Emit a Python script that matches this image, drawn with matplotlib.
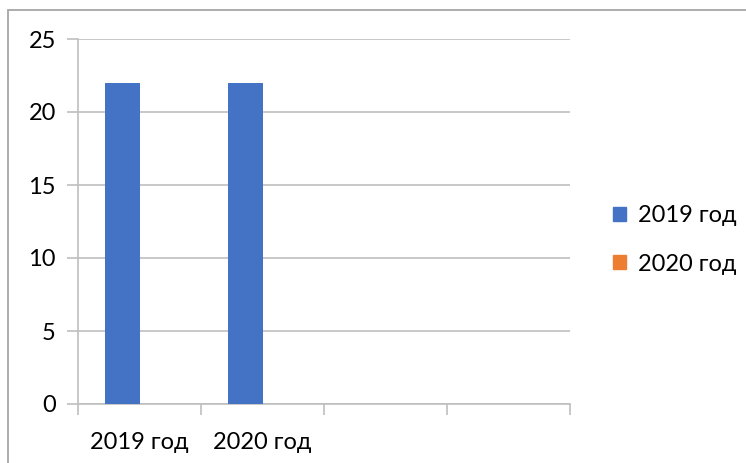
import numpy as np
import matplotlib
matplotlib.use("Agg")
import matplotlib.pyplot as plt
from matplotlib.patches import Patch, Rectangle

categories = ["2019 год", "2020 год", "", ""]
series_names = ["2019 год", "2020 год"]
values_2019 = [22, 22, np.nan, np.nan]
values_2020 = [np.nan, np.nan, np.nan, np.nan]

BLUE, ORANGE = "#4472C4", "#ED7D31"
GRID = "#BFBFBF"

plt.rcParams["font.family"] = ["Lato", "DejaVu Sans"]

W, H = 746, 463
fig = plt.figure(figsize=(W / 100, H / 100), dpi=100)
ax = fig.add_axes([78 / W, (H - 404) / H, (570 - 78) / W, (404 - 39) / H])

x = np.arange(len(categories))
bw = 35 / 123
ax.bar(x - bw / 2, values_2019, bw, color=BLUE, zorder=3)
ax.bar(x + bw / 2, values_2020, bw, color=ORANGE, zorder=3)

ax.set_xlim(-0.5, len(categories) - 0.5)
ax.set_ylim(0, 25)
ax.set_yticks(range(0, 26, 5))
ax.yaxis.grid(True, color=GRID, lw=1.2, zorder=0)
ax.tick_params(axis="y", length=8, color=GRID, width=1.2, labelsize=17, pad=8)

ax.set_xticks(x)
ax.set_xticklabels(categories)
ax.set_xticks(np.arange(len(categories) + 1) - 0.5, minor=True)
ax.tick_params(axis="x", which="major", length=0, labelsize=17, pad=20)
ax.tick_params(axis="x", which="minor", length=8, color=GRID, width=1.2)

for side in ("top", "right"):
    ax.spines[side].set_visible(False)
for side in ("left", "bottom"):
    ax.spines[side].set_color(GRID)
    ax.spines[side].set_linewidth(1.2)

handles = [Patch(color=BLUE), Patch(color=ORANGE)]
fig.legend(handles, series_names, loc="center left", bbox_to_anchor=(592 / W, (H - 240) / H),
           frameon=False, fontsize=17, handlelength=0.55, handleheight=0.55,
           handletextpad=0.5, labelspacing=1.15)

# chart-area border
fig.patches.append(Rectangle((8 / W, -0.1), 1.2, (H - 9.5) / H + 0.1, transform=fig.transFigure,
                             fill=False, edgecolor="#A6A6A6", lw=1.3))

fig.savefig("out.png", dpi=100)
